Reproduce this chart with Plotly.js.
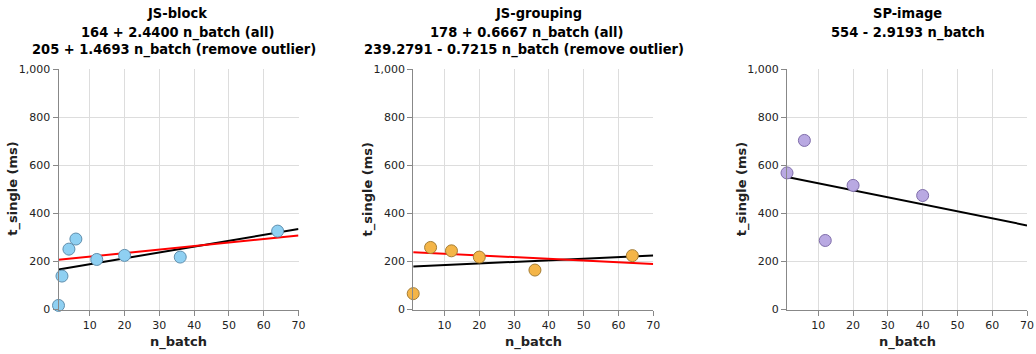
<!DOCTYPE html>
<html>
<head>
<meta charset="utf-8">
<script src="https://cdn.plot.ly/plotly-3.0.1.min.js"></script>
<style>
  html, body { margin: 0; padding: 0; background: #fff; }
  #chart { width: 1036px; height: 354px; }
</style>
</head>
<body>
<div id="chart"></div>
<script>
// Batch size vs. single-request time for three workloads
const panelNames = ['JS-block', 'JS-grouping', 'SP-image'];

const blockBatch = [1, 2, 4, 6, 12, 20, 36, 64];
const blockTime  = [17, 139, 251, 293, 208, 225, 218, 326];

const groupBatch = [1, 6, 12, 20, 36, 64];
const groupTime  = [66, 258, 244, 218, 164, 224];

const imageBatch = [1, 6, 12, 20, 40];
const imageTime  = [568, 703, 287, 516, 474];

// Linear fits: intercept + slope * n_batch
const fitAllIntercept  = [164, 178, 554];
const fitAllSlope      = [2.44, 0.6667, -2.9193];
const fitTrimIntercept = [205, 239.2791, null];
const fitTrimSlope     = [1.4693, -0.7215, null];

const xTicks = [10, 20, 30, 40, 50, 60, 70];
const yTicks = [0, 200, 400, 600, 800, 1000];
const xRange = [1, 70];
const yRange = [0, 1000];

const pointFill   = ['#8fd0f2', '#f4b548', '#b9a9e2'];
const pointStroke = ['#5f8fae', '#a57d33', '#7f6daa'];

const W = 1036, H = 354;
const plotLeft = [58.5, 413.2, 787];
const plotWidth = 240;
const plotTop = 69, plotBottom = 309.5;
const FONT = 'DejaVu Sans, Verdana, sans-serif';
const TITLE_FONT = 'DejaVu Sans Condensed, DejaVu Sans, sans-serif';

// horizontal centre of each title row, per panel
const titleCenters = [[177, 177.5, 173.5], [538, 527, 524], [907, 908]];
const titleRowY = [12.8, 32.3, 49.8];

const seriesX = [blockBatch, groupBatch, imageBatch];
const seriesY = [blockTime, groupTime, imageTime];

function fmtNum(v, d) { return v.toFixed(d); }
function eqText(b, m, bd, md) {
  const sign = m < 0 ? ' - ' : ' + ';
  return fmtNum(b, bd) + sign + fmtNum(Math.abs(m), md) + ' n_batch';
}
const titleLines = [
  [panelNames[0], eqText(fitAllIntercept[0], fitAllSlope[0], 0, 4) + ' (all)',
   eqText(fitTrimIntercept[0], fitTrimSlope[0], 0, 4) + ' (remove outlier)'],
  [panelNames[1], eqText(fitAllIntercept[1], fitAllSlope[1], 0, 4) + ' (all)',
   eqText(fitTrimIntercept[1], fitTrimSlope[1], 4, 4) + ' (remove outlier)'],
  [panelNames[2], eqText(fitAllIntercept[2], fitAllSlope[2], 0, 4)]
];

const traces = [];
const layout = {
  width: W, height: H,
  margin: {l: 0, r: 0, t: 0, b: 0},
  paper_bgcolor: '#fff', plot_bgcolor: '#fff',
  showlegend: false,
  font: {family: FONT, size: 11, color: '#222'},
  annotations: []
};

for (let i = 0; i < 3; i++) {
  const sfx = i === 0 ? '' : String(i + 1);
  const xa = 'x' + sfx, ya = 'y' + sfx;

  // regression line over all points
  const x0 = xRange[0], x1 = xRange[1];
  traces.push({
    type: 'scatter', mode: 'lines', xaxis: xa, yaxis: ya,
    x: [x0, x1],
    y: [fitAllIntercept[i] + fitAllSlope[i] * x0, fitAllIntercept[i] + fitAllSlope[i] * x1],
    line: {color: '#000', width: 2}, hoverinfo: 'skip'
  });
  // regression line with the outlier dropped
  if (fitTrimIntercept[i] !== null) {
    traces.push({
      type: 'scatter', mode: 'lines', xaxis: xa, yaxis: ya,
      x: [x0, x1],
      y: [fitTrimIntercept[i] + fitTrimSlope[i] * x0, fitTrimIntercept[i] + fitTrimSlope[i] * x1],
      line: {color: '#ff0000', width: 2}, hoverinfo: 'skip'
    });
  }
  // measurements
  traces.push({
    type: 'scatter', mode: 'markers', xaxis: xa, yaxis: ya,
    x: seriesX[i], y: seriesY[i],
    marker: {size: 12, color: pointFill[i], line: {color: pointStroke[i], width: 1}},
    cliponaxis: false
  });

  const dx0 = plotLeft[i] / W, dx1 = (plotLeft[i] + plotWidth) / W;
  const dy0 = 1 - plotBottom / H, dy1 = 1 - plotTop / H;

  layout['xaxis' + sfx] = {
    domain: [dx0, dx1], anchor: ya, range: xRange,
    tickmode: 'array', tickvals: xTicks,
    ticks: 'outside', ticklen: 5, tickcolor: '#888', tickwidth: 1,
    showline: true, linecolor: '#888', linewidth: 1,
    showgrid: true, gridcolor: '#ddd', gridwidth: 1, zeroline: false,
    tickfont: {family: FONT, size: 11, color: '#222'},
    fixedrange: true
  };
  layout['yaxis' + sfx] = {
    domain: [dy0, dy1], anchor: xa, range: yRange,
    tickmode: 'array', tickvals: yTicks, tickformat: ',d',
    ticks: 'outside', ticklen: 5, tickcolor: '#888', tickwidth: 1,
    showline: true, linecolor: '#888', linewidth: 1,
    showgrid: true, gridcolor: '#ddd', gridwidth: 1, zeroline: false,
    tickfont: {family: FONT, size: 11, color: '#222'},
    fixedrange: true
  };

  // axis titles
  layout.annotations.push({
    xref: 'paper', yref: 'paper',
    x: (plotLeft[i] + plotWidth / 2) / W, y: 1 - 342 / H,
    xanchor: 'center', yanchor: 'middle', showarrow: false,
    text: 'n_batch',
    font: {family: FONT, size: 13, color: '#222', weight: 'bold'}
  });
  layout.annotations.push({
    xref: 'paper', yref: 'paper',
    x: (plotLeft[i] - 45) / W, y: 1 - ((plotTop + plotBottom) / 2) / H,
    xanchor: 'center', yanchor: 'middle', showarrow: false, textangle: -90,
    text: 't_single (ms)',
    font: {family: FONT, size: 13, color: '#222', weight: 'bold'}
  });

  // panel title rows
  titleLines[i].forEach((line, r) => {
    layout.annotations.push({
      xref: 'paper', yref: 'paper',
      x: titleCenters[i][r] / W, y: 1 - titleRowY[r] / H,
      xanchor: 'center', yanchor: 'middle', showarrow: false,
      text: line,
      font: {family: TITLE_FONT, size: 14.5, color: '#000', weight: 'bold'}
    });
  });
}

Plotly.newPlot('chart', traces, layout, {staticPlot: true, displayModeBar: false});
</script>
</body>
</html>
